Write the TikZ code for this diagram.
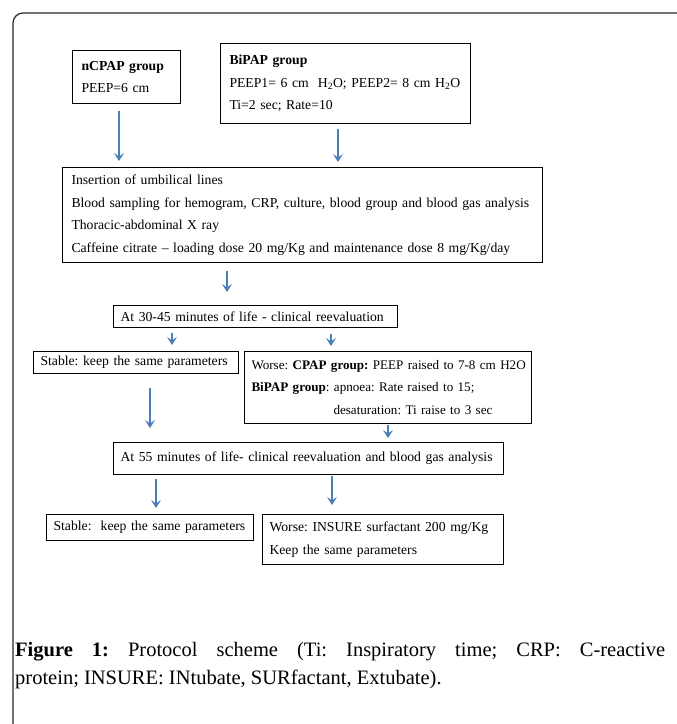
\documentclass[tikz,border=0pt]{standalone}
\usepackage{fontspec}
\setmainfont{Liberation Serif}
\usetikzlibrary{arrows.meta,calc}
\definecolor{arrblue}{RGB}{74,126,187}
\frenchspacing
\begin{document}
\begin{tikzpicture}[x=1pt,y=-1pt,
  box/.style={draw, line width=1pt, anchor=north west, align=left, inner xsep=7pt, inner ysep=0pt, font=\fontsize{13.7}{22.5}\selectfont},
  arr/.style={draw=arrblue, line width=1.5pt, -{Stealth[length=8pt,width=10pt,inset=3.5pt]}},
]
\useasboundingbox (0,0) rectangle (677,724);
\begin{scope}
\clip (0,0) rectangle (677,724);
\draw[line width=1.2pt, rounded corners=10pt, draw=black!85] (13,13) rectangle (700,760);
\end{scope}

\node[box, inner xsep=9pt, text width=90pt, minimum height=53pt] (ncpap) at (72,50) {\textbf{nCPAP group}\\PEEP=6 cm};
\node[box, inner xsep=9pt, text width=232pt, minimum height=80pt] (bipap) at (220,43) {\textbf{BiPAP group}\\\mbox{PEEP1= 6 cm\ \ H\textsubscript{2}O; PEEP2= 8 cm H\textsubscript{2}O}\\Ti=2 sec; Rate=10};
\node[box, inner xsep=9pt, text width=462pt, minimum height=95pt] (ins) at (62,167) {Insertion of umbilical lines\\\mbox{Blood sampling for hemogram, CRP, culture, blood group and blood gas analysis}\\Thoracic-abdominal X ray\\\mbox{Caffeine citrate -- loading dose 20 mg/Kg and maintenance dose 8 mg/Kg/day}};
\node[box, text width=270pt, minimum height=22pt] (t30) at (113,305) {At 30-45 minutes of life - clinical reevaluation};
\node[box, text width=191pt, minimum height=22pt] (st1) at (33,351) {\mbox{Stable: keep the same parameters}};
\node[box, inner xsep=7pt, text width=273pt, minimum height=72pt, font=\fontsize{13.1}{22.5}\selectfont] (wo1) at (244,351) {\mbox{Worse: \textbf{CPAP group:} PEEP raised to 7-8 cm H2O}\\\textbf{BiPAP group}: apnoea: Rate raised to 15;\\\hspace*{82pt}desaturation: Ti raise to 3 sec};
\node[box, text width=376pt, minimum height=32pt] (t55) at (113,442) {\mbox{At 55 minutes of life- clinical reevaluation and blood gas analysis}};
\node[box, text width=193pt, minimum height=26pt] (st2) at (46,514) {\mbox{Stable:\ \ keep the same parameters}};
\node[box, text width=227pt, minimum height=50pt] (wo2) at (262,514) {\mbox{Worse: INSURE surfactant 200 mg/Kg}\\Keep the same parameters};

\coordinate (s1) at ([xshift=47pt,yshift=-7pt]ncpap.south west);
\coordinate (s2) at ([xshift=118pt,yshift=-5pt]bipap.south west);
\coordinate (s3) at ([xshift=165pt,yshift=-8pt]ins.south west);
\coordinate (s4) at ([xshift=59pt,yshift=-5pt]t30.south west);
\coordinate (s5) at ([xshift=218pt,yshift=-6pt]t30.south west);
\coordinate (s6) at ([xshift=117pt,yshift=-14pt]st1.south west);
\coordinate (s7) at ([xshift=144pt,yshift=-1pt]wo1.south west);
\coordinate (s8) at ([xshift=43pt,yshift=-4pt]t55.south west);
\coordinate (s9) at ([xshift=219pt,yshift=-1pt]t55.south west);
\draw[arr, shorten >=6pt] (s1) -- (s1 |- ins.north);
\draw[arr, shorten >=5pt] (s2) -- (s2 |- ins.north);
\draw[arr, shorten >=13pt] (s3) -- (s3 |- t30.north);
\draw[arr, shorten >=6pt] (s4) -- (s4 |- st1.north);
\draw[arr, shorten >=5pt] (s5) -- (s5 |- wo1.north);
\draw[arr, shorten >=14pt] (s6) -- (s6 |- t55.north);
\draw[arr, shorten >=4pt] (s7) -- (s7 |- t55.north);
\draw[arr, shorten >=6pt] (s8) -- (s8 |- st2.north);
\draw[arr, shorten >=9pt] (s9) -- (s9 |- wo2.north);

\node[anchor=north west, text width=650pt, align=justify, inner sep=0pt, font=\fontsize{20.5}{28}\selectfont] (cap) at (15,642) {\textbf{Figure 1:} Protocol scheme (Ti: Inspiratory time; CRP: C-reactive\linebreak protein; INSURE: INtubate, SURfactant, Extubate).};
\end{tikzpicture}
\end{document}
